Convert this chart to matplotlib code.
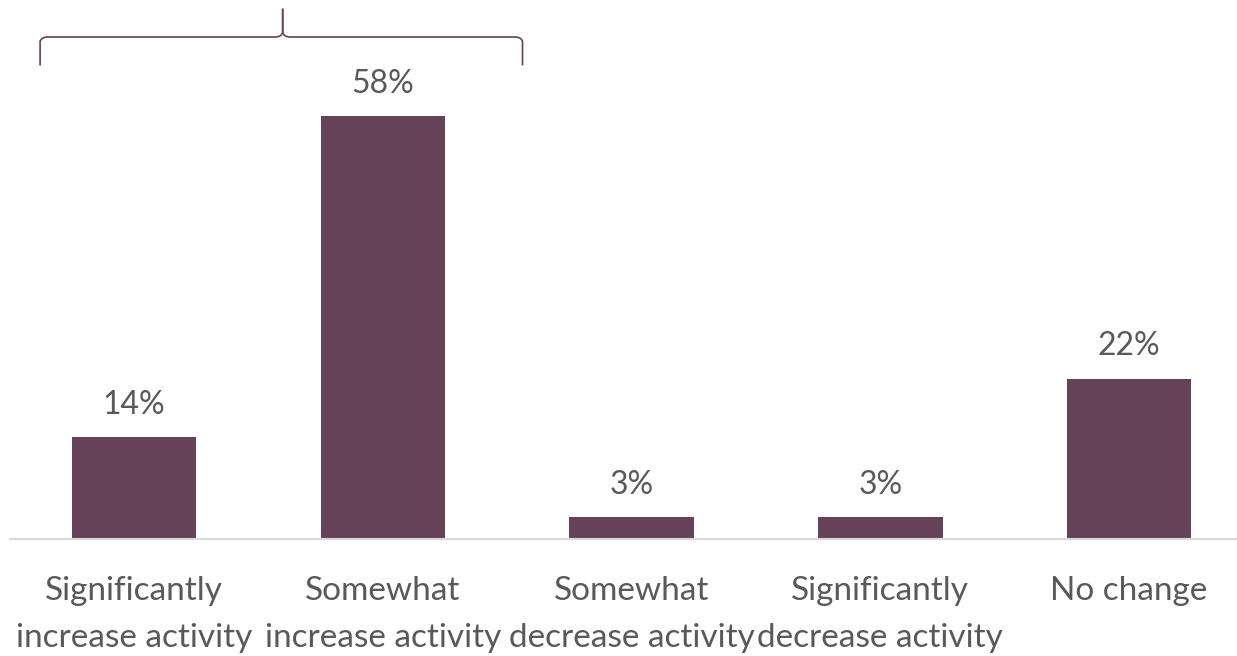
import matplotlib.pyplot as plt
from matplotlib.path import Path
from matplotlib.patches import PathPatch

categories = ["Significantly\nincrease activity", "Somewhat\nincrease activity",
              "Somewhat\ndecrease activity", "Significantly\ndecrease activity",
              "No change"]
shares = [14, 58, 3, 3, 22]

barColor = "#664259"
textColor = "#595959"

plt.rcParams['font.family'] = ['Lato', 'DejaVu Sans']

fig = plt.figure( figsize = (12.37, 6.56), dpi = 100, facecolor = 'white' )
ax = fig.add_axes( [9.5/1237, 117/656, 1244/1237, 510/656] )

x = list( range( len( categories ) ) )
ax.bar( x, shares, width = 0.5, color = barColor )
for xi, v in zip( x, shares ):
    ax.text( xi, v + 2.4, "{}%".format( v ), ha = 'center', va = 'bottom',
             fontsize = 23, color = textColor )

ax.set_xlim( -0.5, len( categories ) - 0.5 )
ax.set_ylim( 0, 70 )
ax.set_xticks( x )
ax.set_xticklabels( categories, fontsize = 24, color = textColor,
                    linespacing = 1.68 )
ax.tick_params( axis = 'x', length = 0, pad = 27 )
ax.set_yticks( [] )
for s in ['top', 'right', 'left']:
    ax.spines[s].set_visible( False )
ax.spines['bottom'].set_color( '#d9d9d9' )
ax.spines['bottom'].set_linewidth( 1.5 )

# curly brace grouping the two "increase" answers
xl, xr, xm = -0.377, 1.562, 0.598
yb, yh, yt = 65.0, 68.9, 72.8
r = 0.03
verts = [
    (xl, yb), (xl, yh - 0.6), (xl + r * 0.2, yh), (xl + r, yh),
    (xm - r, yh), (xm - r * 0.2, yh), (xm, yh + 0.6), (xm, yt),
]
codes = [Path.MOVETO, Path.LINETO, Path.CURVE3, Path.CURVE3,
         Path.LINETO, Path.CURVE3, Path.CURVE3, Path.LINETO]
verts2 = [
    (xr, yb), (xr, yh - 0.6), (xr - r * 0.2, yh), (xr - r, yh),
    (xm + r, yh), (xm + r * 0.2, yh), (xm, yh + 0.6), (xm, yt),
]
for vv in (verts, verts2):
    ax.add_patch( PathPatch( Path( vv, codes ), fill = False, edgecolor = barColor,
                             linewidth = 1.2, clip_on = False ) )

fig.savefig( "out.png", dpi = 100, facecolor = 'white' )
